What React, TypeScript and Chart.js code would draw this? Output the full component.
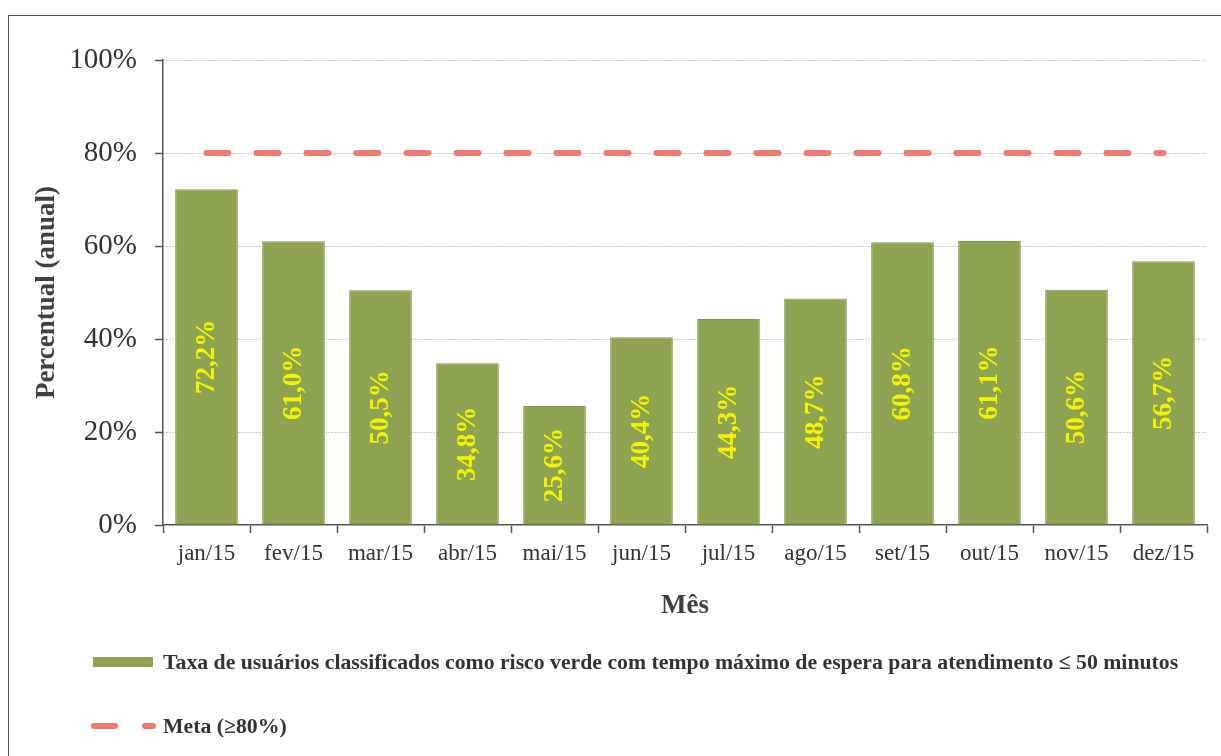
import React, { useEffect, useRef } from "react";
import { Chart, registerables } from "chart.js";

Chart.register(...registerables);

const months = ["jan/15", "fev/15", "mar/15", "abr/15", "mai/15", "jun/15", "jul/15", "ago/15", "set/15", "out/15", "nov/15", "dez/15"];
const greenRate = [72.2, 61.0, 50.5, 34.8, 25.6, 40.4, 44.3, 48.7, 60.8, 61.1, 50.6, 56.7];
const goal = [80, 80, 80, 80, 80, 80, 80, 80, 80, 80, 80, 80];
const yTicks = [0, 20, 40, 60, 80, 100];
const seriesNames = [
  "Taxa de usuários classificados como risco verde com tempo máximo de espera para atendimento ≤ 50 minutos",
  "Meta (≥80%)",
];
const axisTitles = { x: "Mês", y: "Percentual (anual)" };

const SERIF = "'Liberation Serif', 'Times New Roman', serif";
const GREEN = "#8da352";
const RED = "#f07a72";

const fmt = (v: number) => v.toFixed(1).replace(".", ",") + "%";

const barLabels = {
  id: "barLabels",
  afterDatasetsDraw(chart: any) {
    const meta = chart.getDatasetMeta(0);
    const ctx = chart.ctx;
    ctx.save();
    ctx.font = `bold 27px ${SERIF}`;
    ctx.fillStyle = "#f4f400";
    ctx.textAlign = "center";
    ctx.textBaseline = "middle";
    meta.data.forEach((bar: any, i: number) => {
      const cy = (bar.y + bar.base) / 2;
      ctx.save();
      ctx.translate(bar.x, cy);
      ctx.rotate(-Math.PI / 2);
      ctx.fillText(fmt(chart.data.datasets[0].data[i]), 0, 1);
      ctx.restore();
    });
    ctx.restore();
  },
};

const customLegend = {
  id: "customLegend",
  afterDraw(chart: any) {
    const ctx = chart.ctx;
    const rows = [662, 726];
    const x0 = 93;
    const w = 60;
    ctx.save();
    chart.data.datasets.forEach((ds: any, i: number) => {
      const y = rows[i];
      if (ds.type === "line") {
        ctx.save();
        ctx.strokeStyle = ds.borderColor;
        ctx.lineWidth = ds.borderWidth;
        ctx.lineCap = "round";
        ctx.setLineDash([21, 30]);
        ctx.beginPath();
        ctx.moveTo(x0 + 1, y);
        ctx.lineTo(x0 + w, y);
        ctx.stroke();
        ctx.restore();
      } else {
        ctx.fillStyle = ds.backgroundColor;
        ctx.fillRect(x0, y - 5, w, 10);
      }
      ctx.font = `bold 21.75px ${SERIF}`;
      ctx.fillStyle = "#333";
      ctx.textAlign = "left";
      ctx.textBaseline = "middle";
      ctx.fillText(ds.label, x0 + w + 10, y + 1);
    });
    ctx.restore();
  },
};

export default function App() {
  const ref = useRef<HTMLCanvasElement | null>(null);

  useEffect(() => {
    if (!ref.current) return;
    const chart = new Chart(ref.current, {
      type: "bar",
      data: {
        labels: months,
        datasets: [
          {
            type: "bar",
            label: seriesNames[0],
            data: greenRate,
            backgroundColor: GREEN,
            borderColor: "#82994a",
            borderWidth: 1,
            barPercentage: 0.72,
            categoryPercentage: 1,
          } as any,
          {
            type: "line",
            label: seriesNames[1],
            data: goal,
            borderColor: RED,
            backgroundColor: RED,
            borderWidth: 6,
            borderDash: [22, 28],
            borderCapStyle: "round",
            pointRadius: 0,
            fill: false,
          } as any,
        ],
      },
      options: {
        responsive: false,
        animation: false,
        layout: { padding: { left: 29, right: 14, top: 60, bottom: 134 } },
        plugins: {
          legend: { display: false },
          tooltip: { enabled: false },
        },
        scales: {
          x: {
            offset: true,
            grid: {
              display: true,
              offset: true,
              drawOnChartArea: false,
              drawTicks: true,
              tickLength: 8,
              tickColor: "#555",
              tickWidth: 1.5,
            },
            border: { display: true, color: "#555", width: 1.5 },
            ticks: {
              color: "#333",
              padding: 7,
              font: { family: SERIF, size: 23 },
              maxRotation: 0,
              autoSkip: false,
            },
            title: {
              display: true,
              text: axisTitles.x,
              color: "#404040",
              font: { family: SERIF, size: 27, weight: "bold" },
              padding: { top: 24, bottom: 0 },
            },
            afterFit: (scale: any) => {
              scale.height = 97;
            },
          },
          y: {
            min: 0,
            max: 100,
            afterBuildTicks: (scale: any) => {
              scale.ticks = yTicks.map((v) => ({ value: v }));
            },
            grid: {
              color: (c: any) => (c.tick && c.tick.value === 0 ? "rgba(0,0,0,0)" : "#9a9a9a"),
              lineWidth: 1,
              drawTicks: true,
              tickLength: 8,
              tickColor: "#555",
              tickWidth: 1.5,
            },
            border: { display: true, color: "#555", width: 1.5, dash: [1, 2] },
            ticks: {
              color: "#333",
              padding: 18,
              font: { family: SERIF, size: 29 },
              callback: (v: any) => v + "%",
            },
            title: {
              display: true,
              text: axisTitles.y,
              color: "#404040",
              font: { family: SERIF, size: 27, weight: "bold" },
              padding: { top: 2, bottom: 0 },
            },
            afterFit: (scale: any) => {
              scale.width = 134;
            },
          },
        },
      },
      plugins: [barLabels, customLegend],
    });
    return () => chart.destroy();
  }, []);

  return (
    <div style={{ position: "fixed", left: 0, top: 0, width: 1221, height: 756, overflow: "hidden", background: "#fff" }}>
      <canvas ref={ref} width={1221} height={756} style={{ position: "absolute", left: 0, top: 0, width: 1221, height: 756 }} />
      <div
        style={{
          position: "absolute",
          left: 8,
          top: 15,
          width: 1400,
          height: 900,
          borderLeft: "1px solid #555",
          borderTop: "1px solid #555",
          pointerEvents: "none",
        }}
      />
    </div>
  );
}
